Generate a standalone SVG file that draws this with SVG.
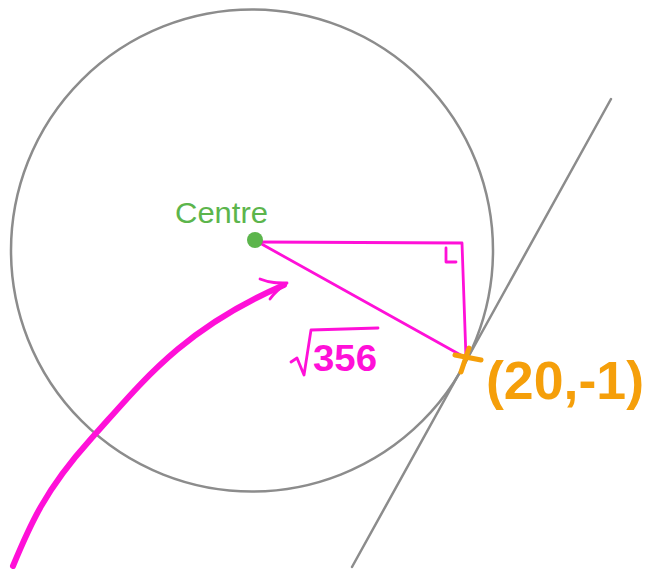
<svg xmlns="http://www.w3.org/2000/svg" width="647" height="569" viewBox="0 0 647 569">
<style>
.grey{fill:none;stroke:#8c8c8c;stroke-width:2.5;stroke-linecap:round}
.mag{fill:none;stroke:#ff10d8;stroke-width:2.8;stroke-linecap:round;stroke-linejoin:round}
.org{fill:none;stroke:#f59f0a;stroke-width:5;stroke-linecap:round}
text{font-family:"Liberation Sans",Arial,sans-serif}
</style>
<rect width="647" height="569" fill="#fff"/>
<g id="circle"><circle class="grey" cx="252" cy="250.5" r="241"/></g>
<g id="tangent"><path class="grey" d="M611 99 L352 567"/></g>
<g id="connectors">
<path class="mag" d="M258 242 L462 243 L466 358"/>
<path class="mag" d="M258 242 L466 358"/>
<path class="mag" stroke-width="3" d="M446 248 L446 262 L456 262"/>
<path fill="none" stroke="#ff10d8" stroke-width="6" stroke-linecap="round" d="M13 566 C30 525 45 490 90 440 C140 385 180 330 284 285"/>
<path class="mag" stroke-width="4.5" d="M260 279 C270 283 278 283 287 283 C280 288 274 293 270 299"/>
</g>
<g id="centre">
<circle cx="255" cy="240" r="8" fill="#5cb54c"/>
<text x="175" y="223" font-size="30" fill="#5cb54c" textLength="93" lengthAdjust="spacingAndGlyphs">Centre</text>
</g>
<g id="radius-label">
<path class="mag" stroke-width="4.5" d="M291 362 L297 358 L304 375 L311 330 L378 328"/>
<text x="313" y="371" font-size="36" font-weight="bold" fill="#ff10d8" textLength="64" lengthAdjust="spacingAndGlyphs">356</text>
</g>
<g id="point">
<path class="org" d="M455 355 L481 360 M469 348 L461 372"/>
<text x="486" y="399" font-size="54" fill="#f59f0a" font-weight="bold" textLength="158" lengthAdjust="spacingAndGlyphs">(20,-1)</text>
</g>
</svg>
